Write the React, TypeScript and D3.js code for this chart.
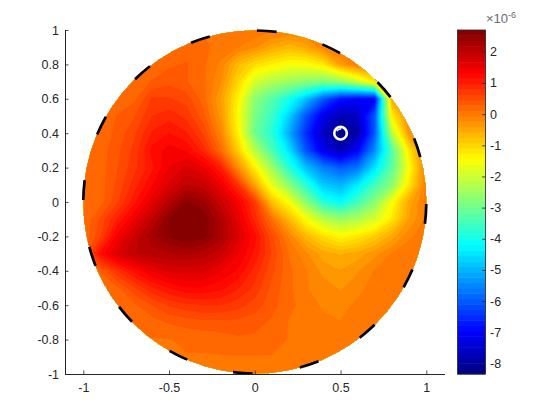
import React, { useEffect, useRef } from 'react';
import * as d3 from 'd3';

// grid samples, x runs -1..1 in 0.1 steps, one row per y (units of 1e-6)
const gridX = d3.range(21).map((i) => -1 + i * 0.1);
const rowP10 = [0.1,0.1,0.1,0.1,0.1,0.1,0.1,0.1,0.1,0.1,0.05,0,0,0,0.1,0.1,0.1,0.1,0.1,0.1,0.1];
const rowP09 = [0.1,0.1,0.1,0.1,0.1,0.15,0.2,0.15,0.05,-0.05,-0.2,-0.5,-0.7,-0.5,-0.1,0.1,0.1,0.1,0.1,0.1,0.1];
const rowP08 = [0.1,0.1,0.1,0.1,0.15,0.25,0.3,0.15,-0.1,-0.7,-1.1,-1.3,-1.5,-1.5,-1.2,-0.4,0,0,0,0.1,0.1];
const rowP07 = [0.1,0.1,0.1,0.15,0.3,0.4,0.3,0.15,-0.2,-1.0,-1.9,-2.3,-2.5,-2.7,-2.8,-2.6,-2.0,-1.2,-0.3,0.1,0.1];
const rowP06 = [0.1,0.1,0.1,0.25,0.65,0.65,0.55,0.2,-0.4,-1.3,-2.7,-3.3,-4,-4.9,-6,-6.8,-7,-7,-0.5,-0.1,0.1];
const rowP05 = [0.1,0.1,0.3,0.45,0.8,0.9,0.75,0.35,-0.3,-1.4,-2.9,-3.6,-4.7,-6.1,-7.2,-7.8,-7.6,-6,-1.3,-0.1,0.1];
const rowP04 = [0.1,0.15,0.35,0.6,1,1.15,1,0.6,-0.1,-1.3,-3,-3.8,-5.1,-6.5,-7.6,-8.3,-7.9,-6,-2.2,-0.3,0.1];
const rowP03 = [0.1,0.2,0.4,0.7,1.2,1.4,1.3,0.9,0.2,-0.9,-2.2,-3.4,-4.5,-6.1,-7.2,-7.7,-7,-5.4,-3.3,-1.2,0.1];
const rowP02 = [0.1,0.2,0.45,0.75,1.1,1.5,1.7,1.5,1,-0.2,-1.3,-2.5,-3.8,-4.9,-5.6,-6,-5.7,-4.5,-3.2,-1.5,0];
const rowP01 = [0.1,0.2,0.5,0.9,1.3,1.7,2,1.9,1.5,0.8,-0.5,-1.7,-2.7,-3.8,-4.8,-5,-4.4,-3.5,-2.7,-1.2,0];
const rowZ00 = [0.1,0.2,0.6,1.1,1.6,2.1,2.55,2.4,1.9,1.4,0.7,-0.8,-1.5,-2.7,-3.8,-4.2,-3.5,-2.7,-1.5,-0.5,0];
const rowM01 = [0.1,0.5,1,1.5,2,2.55,2.7,2.65,2.2,1.6,0.9,0.1,-0.7,-1.5,-2.2,-2.5,-2.3,-1.9,-1.2,-0.4,0];
const rowM02 = [0.1,0.6,1.4,1.9,2.3,2.55,2.7,2.6,2.25,1.7,1.2,0.5,-0.1,-0.7,-1.1,-1.4,-1.2,-0.9,-0.5,-0.1,0.05];
const rowM03 = [0.2,1.2,1.7,2.0,2.1,2.15,2.2,2.1,1.9,1.5,1.1,0.6,0.1,-0.2,-0.5,-0.6,-0.5,-0.3,-0.05,0.05,0.1];
const rowM04 = [0.1,0.3,0.8,1.2,1.5,1.7,1.7,1.7,1.5,1.3,0.9,0.5,0.15,-0.05,-0.3,-0.4,-0.25,-0.05,0.1,0.1,0.1];
const rowM05 = [0.1,0.15,0.25,0.6,0.95,1.15,1.3,1.3,1.2,1,0.75,0.4,0.15,-0.05,-0.15,-0.25,-0.15,0.05,0.1,0.1,0.1];
const rowM06 = [0.1,0.1,0.15,0.25,0.45,0.65,0.75,0.8,0.8,0.7,0.55,0.35,0.15,0.05,-0.1,-0.15,0,0.1,0.1,0.1,0.1];
const rowM07 = [0.1,0.1,0.1,0.15,0.2,0.3,0.35,0.4,0.4,0.4,0.35,0.25,0.1,0.05,0,-0.05,0.1,0.1,0.1,0.1,0.1];
const rowM08 = [0.1,0.1,0.1,0.1,0.1,0.1,0.15,0.15,0.2,0.25,0.25,0.2,0.1,0.05,0.05,0.05,0.1,0.1,0.1,0.1,0.1];
const rowM09 = [0.1,0.1,0.1,0.1,0.1,0.1,0.1,0.1,0.1,0.1,0.1,0.1,0.1,0.05,0.05,0.05,0.1,0.1,0.1,0.1,0.1];
const rowM10 = [0.1,0.1,0.1,0.1,0.1,0.1,0.1,0.1,0.1,0.1,0.1,0.1,0.1,0.1,0.1,0.1,0.1,0.1,0.1,0.1,0.1];
const gridRows = [rowP10, rowP09, rowP08, rowP07, rowP06, rowP05, rowP04, rowP03, rowP02, rowP01, rowZ00,
  rowM01, rowM02, rowM03, rowM04, rowM05, rowM06, rowM07, rowM08, rowM09, rowM10];

const axisTicks = [-1, -0.8, -0.6, -0.4, -0.2, 0, 0.2, 0.4, 0.6, 0.8, 1];
const xTicks = [-1, -0.5, 0, 0.5, 1];
const barTicks = [-8, -7, -6, -5, -4, -3, -2, -1, 0, 1, 2];
const colorRange = [-8.34, 2.7];
const dashCentres = [86, 63.5, 41, 18.5, -4, -26.5, -49, -71.5, -94, -116.5, -139, -161.5, 176, 153.5, 131, 108.5];
const sourcePoint = [0.5, 0.4];
const nLevels = 64;

// matlab jet
function jet(t: number) {
  const c = (v: number) => Math.round(255 * Math.max(0, Math.min(1, v)));
  const r = 1.5 - Math.abs(4 * t - 3);
  const g = 1.5 - Math.abs(4 * t - 2);
  const b = 1.5 - Math.abs(4 * t - 1);
  return `rgb(${c(r)},${c(g)},${c(b)})`;
}

export default function App() {
  const svgRef = useRef<SVGSVGElement>(null);

  useEffect(() => {
    const svg = d3.select(svgRef.current);
    svg.selectAll('*').remove();

    const x = d3.scaleLinear().domain([-1, 1]).range([83.3, 426.3]);
    const y = d3.scaleLinear().domain([-1, 1]).range([374, 30]);
    const textColor = '#262626';
    const font = '"Liberation Sans", Arial, sans-serif';

    // filled contours, clipped to the unit disc
    const step = gridX[1] - gridX[0];
    const flat = gridRows.flat();
    const levels = d3.range(nLevels).map((i) => colorRange[0] + (i * (colorRange[1] - colorRange[0])) / nLevels);
    levels[0] = -20;
    const contours = d3.contours().size([gridX.length, gridRows.length]).thresholds(levels)(flat);
    const project = d3.geoTransform({
      point(px: number, py: number) {
        (this as any).stream.point(x(gridX[0] + (px - 0.5) * step), y(1 - (py - 0.5) * step));
      },
    });
    const geo = d3.geoPath(project);

    const defs = svg.append('defs');
    defs.append('clipPath').attr('id', 'disc').append('circle')
      .attr('cx', x(0)).attr('cy', y(0)).attr('r', x(1) - x(0));

    svg.append('g').attr('clip-path', 'url(#disc)')
      .selectAll('path').data(contours).join('path')
      .attr('d', (d) => geo(d as any))
      .attr('fill', (d, i) => jet((i + 0.5) / nLevels))
      .attr('stroke', (d, i) => jet((i + 0.5) / nLevels))
      .attr('stroke-width', 0.4);

    // dashed boundary
    const rad = x(1) - x(0);
    const dashHalf = 3.3;
    svg.append('g').selectAll('path').data(dashCentres).join('path')
      .attr('d', (a) => {
        const p = d3.path();
        const a0 = (-(a + dashHalf) * Math.PI) / 180;
        const a1 = (-(a - dashHalf) * Math.PI) / 180;
        p.arc(x(0), y(0), rad, a0, a1);
        return p.toString();
      })
      .attr('fill', 'none').attr('stroke', '#000').attr('stroke-width', 2.7);

    // source marker
    svg.append('circle').attr('cx', x(sourcePoint[0])).attr('cy', y(sourcePoint[1])).attr('r', 6.3)
      .attr('fill', 'none').attr('stroke', '#fff').attr('stroke-width', 2.6);
    const notch = d3.path();
    notch.arc(x(sourcePoint[0]), y(sourcePoint[1]), 4.2, -Math.PI * 0.85, -Math.PI * 0.45);
    svg.append('path').attr('d', notch.toString()).attr('fill', 'none').attr('stroke', '#fff').attr('stroke-width', 1.4);

    // axes
    const xAxis = d3.axisBottom(x).tickValues(xTicks).tickFormat((d) => String(d)).tickSize(-3.5).tickPadding(9);
    const yAxis = d3.axisLeft(y).tickValues(axisTicks).tickFormat((d) => String(d)).tickSize(-3.5).tickPadding(6);
    const gx = svg.append('g').attr('transform', 'translate(0,374)').call(xAxis);
    const gy = svg.append('g').attr('transform', 'translate(65,0)').call(yAxis);
    gx.select('.domain').attr('d', 'M65,0.5H445');
    gy.select('.domain').attr('d', 'M0.5,30V374');

    // colorbar
    const barX0 = 457.5;
    const barX1 = 485.5;
    const barY = d3.scaleLinear().domain(colorRange).range([374, 30]);
    svg.append('g').selectAll('rect').data(d3.range(nLevels)).join('rect')
      .attr('x', barX0).attr('width', barX1 - barX0)
      .attr('y', (i) => barY(colorRange[0] + ((i + 1) * (colorRange[1] - colorRange[0])) / nLevels))
      .attr('height', (barY.range()[0] - barY.range()[1]) / nLevels + 0.5)
      .attr('fill', (i) => jet((i + 0.5) / nLevels));
    const barAxis = d3.axisRight(barY).tickValues(barTicks).tickFormat((d) => String(d)).tickSize(-3.5).tickPadding(4.5);
    const gb = svg.append('g').attr('transform', `translate(${barX1},0)`).call(barAxis);
    gb.select('.domain').remove();
    svg.append('rect').attr('x', barX0).attr('y', 30).attr('width', barX1 - barX0).attr('height', 344)
      .attr('fill', 'none').attr('stroke', textColor).attr('stroke-width', 0.8);

    svg.selectAll('.tick text').attr('fill', textColor).attr('font-size', 12.5).attr('font-family', font);
    svg.selectAll('.tick line').attr('stroke', textColor).attr('stroke-width', 0.8);
    svg.selectAll('.domain').attr('stroke', textColor).attr('stroke-width', 1);

    // exponent label
    const expo = svg.append('text').attr('x', 486).attr('y', 23)
      .attr('fill', '#6a6a6a').attr('font-size', 13).attr('font-family', font);
    expo.append('tspan').text('×10');
    expo.append('tspan').attr('dy', -5).attr('font-size', 9).text('-6');
  }, []);

  return (
    <svg ref={svgRef} width={560} height={420} style={{ position: 'absolute', left: 0, top: 0, background: '#fff' }} />
  );
}
